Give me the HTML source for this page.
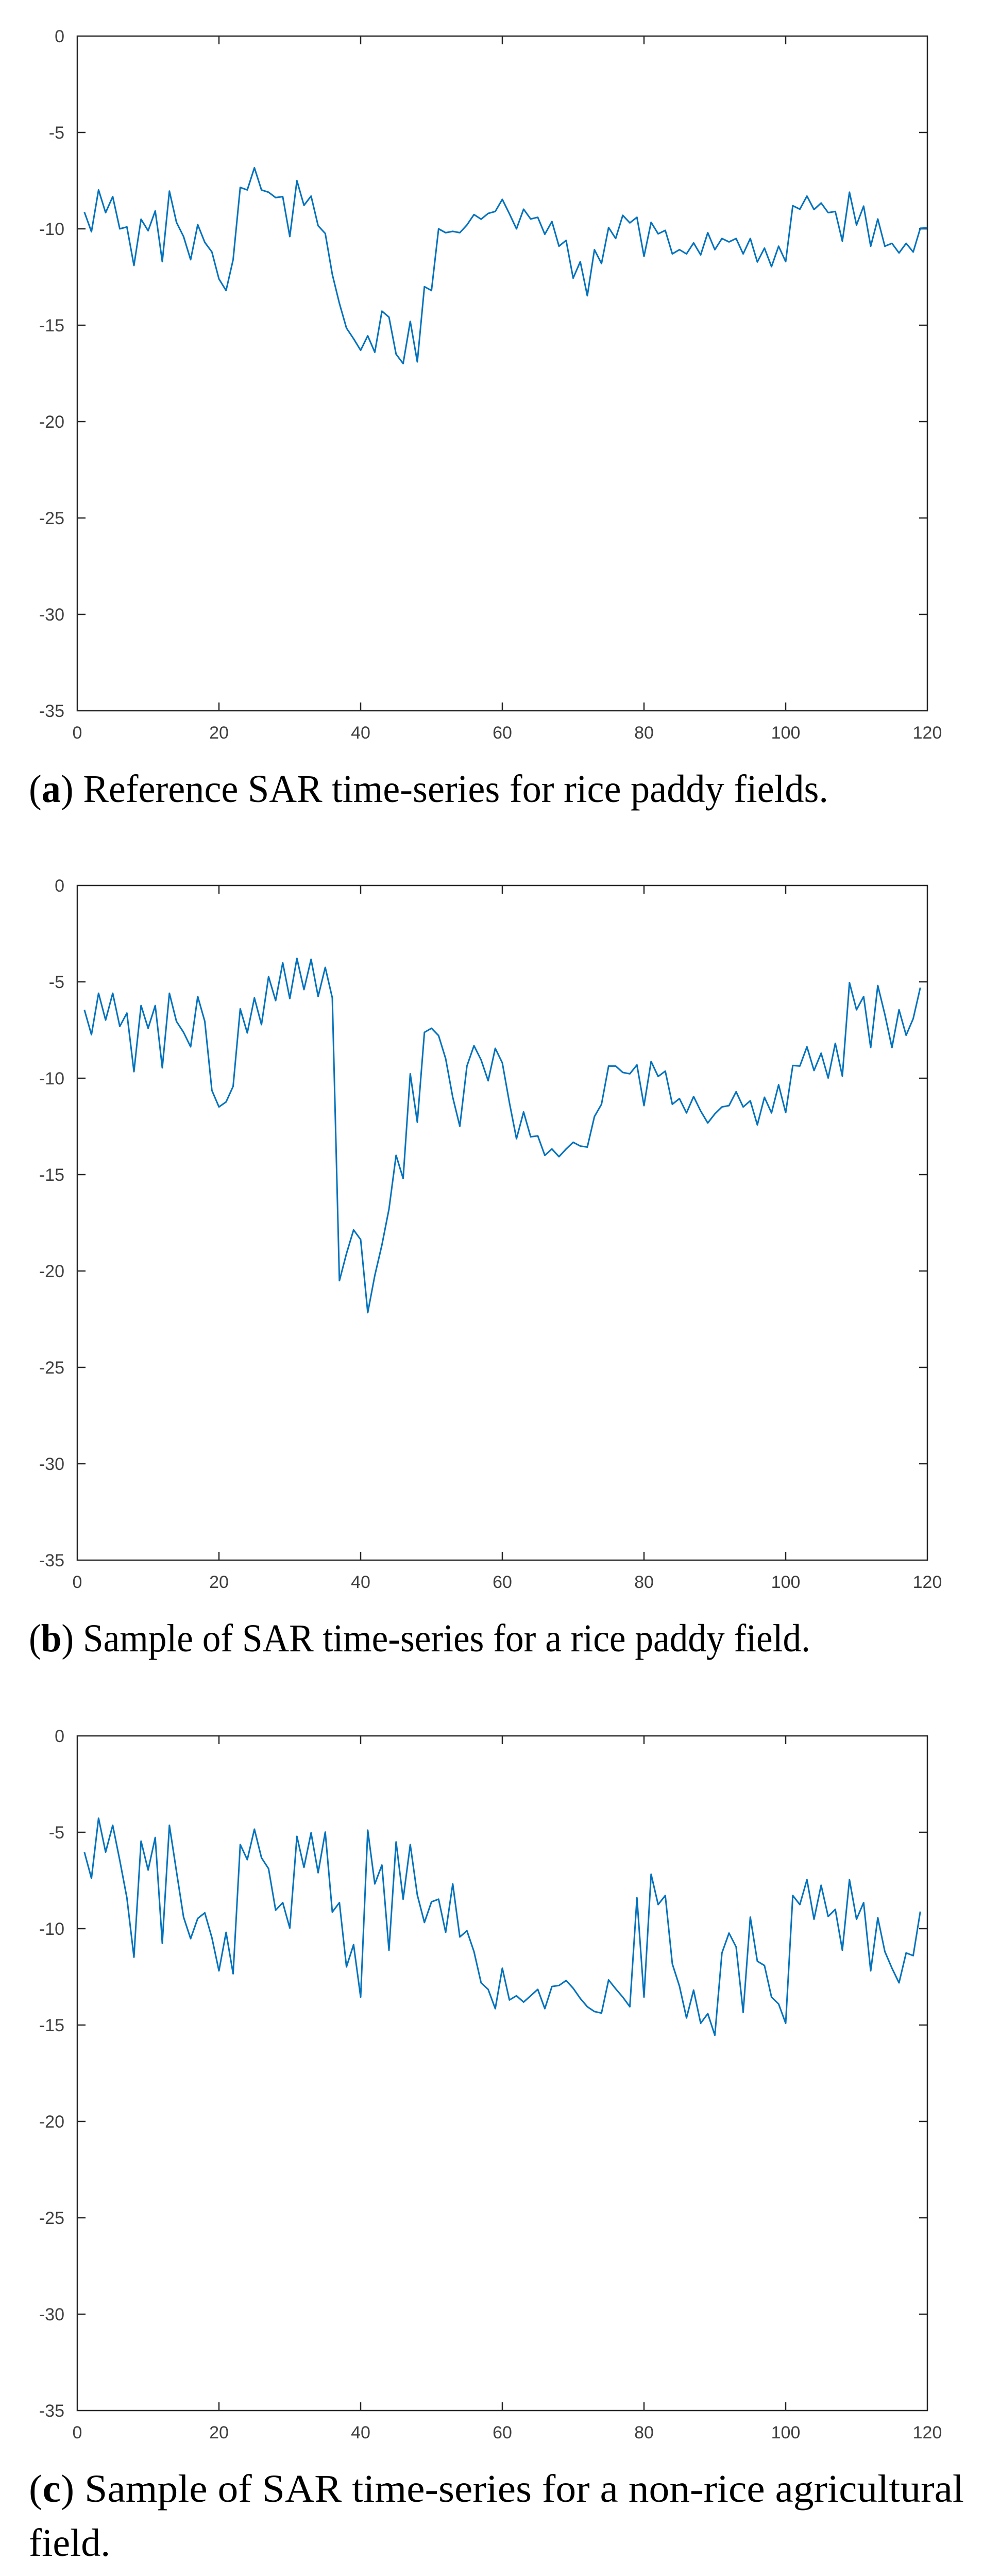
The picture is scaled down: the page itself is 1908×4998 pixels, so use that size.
<!DOCTYPE html>
<html><head><meta charset="utf-8"><style>
html,body{margin:0;padding:0;background:#fff;}
svg{display:block;}
</style></head><body>
<svg id="fig" xmlns="http://www.w3.org/2000/svg" width="1908" height="4998" viewBox="0 0 1908 4998">
<rect x="0" y="0" width="1908" height="4998" fill="#fff"/>
</svg>
<script>
const xTicks = [0, 20, 40, 60, 80, 100, 120];
const yTicks = [0, -5, -10, -15, -20, -25, -30, -35];
const seriesA = [-9.13,-10.15,-7.98,-9.16,-8.33,-10.0,-9.9,-11.9,-9.5,-10.1,-9.07,-11.7,-8.04,-9.66,-10.4,-11.6,-9.78,-10.7,-11.2,-12.6,-13.2,-11.6,-7.85,-7.98,-6.83,-7.98,-8.1,-8.38,-8.33,-10.4,-7.5,-8.78,-8.3,-9.84,-10.24,-12.36,-13.87,-15.15,-15.7,-16.3,-15.55,-16.4,-14.27,-14.58,-16.5,-16.99,-14.8,-16.9,-13.0,-13.2,-10.0,-10.2,-10.13,-10.2,-9.8,-9.26,-9.5,-9.2,-9.1,-8.47,-9.22,-10.0,-8.98,-9.49,-9.4,-10.28,-9.62,-10.9,-10.6,-12.56,-11.7,-13.47,-11.08,-11.8,-9.93,-10.5,-9.3,-9.69,-9.4,-11.43,-9.66,-10.26,-10.08,-11.3,-11.08,-11.3,-10.73,-11.35,-10.2,-11.08,-10.5,-10.68,-10.5,-11.3,-10.5,-11.72,-11.0,-11.96,-10.9,-11.7,-8.8,-8.98,-8.3,-9.0,-8.66,-9.16,-9.1,-10.64,-8.1,-9.8,-8.82,-10.9,-9.49,-10.9,-10.75,-11.25,-10.75,-11.2,-9.97,-9.95];
const seriesB = [-6.45,-7.74,-5.59,-6.98,-5.59,-7.31,-6.62,-9.66,-6.23,-7.41,-6.23,-9.46,-5.59,-7.05,-7.62,-8.37,-5.76,-7.05,-10.63,-11.49,-11.23,-10.42,-6.4,-7.65,-5.83,-7.22,-4.73,-5.97,-4.01,-5.87,-3.78,-5.4,-3.83,-5.76,-4.25,-5.83,-20.5,-19.1,-17.87,-18.37,-22.16,-20.23,-18.65,-16.79,-14.0,-15.2,-9.77,-12.28,-7.62,-7.41,-7.79,-8.98,-10.99,-12.49,-9.37,-8.31,-9.05,-10.13,-8.45,-9.2,-11.27,-13.14,-11.75,-13.04,-12.99,-14.0,-13.67,-14.07,-13.67,-13.32,-13.52,-13.57,-11.99,-11.35,-9.37,-9.37,-9.7,-9.77,-9.31,-11.42,-9.13,-9.91,-9.63,-11.35,-11.06,-11.8,-10.95,-11.7,-12.32,-11.85,-11.49,-11.42,-10.7,-11.49,-11.17,-12.42,-10.99,-11.8,-10.34,-11.78,-9.34,-9.37,-8.37,-9.6,-8.7,-9.99,-8.19,-9.89,-5.04,-6.45,-5.76,-8.41,-5.19,-6.69,-8.41,-6.45,-7.77,-6.91,-5.3];
const seriesC = [-6.03,-7.39,-4.27,-6.03,-4.64,-6.46,-8.4,-11.48,-5.46,-6.96,-5.27,-10.76,-4.64,-7.03,-9.4,-10.52,-9.47,-9.18,-10.47,-12.19,-10.19,-12.34,-5.64,-6.42,-4.84,-6.32,-6.89,-9.04,-8.65,-9.97,-5.21,-6.82,-5.03,-7.1,-4.99,-9.14,-8.65,-11.98,-10.83,-13.55,-4.89,-7.68,-6.7,-11.12,-5.5,-8.47,-5.64,-8.25,-9.68,-8.61,-8.47,-10.19,-7.68,-10.43,-10.11,-11.19,-12.81,-13.15,-14.15,-12.05,-13.7,-13.48,-13.81,-13.48,-13.15,-14.15,-13.0,-12.95,-12.69,-13.09,-13.62,-14.05,-14.3,-14.38,-12.66,-13.12,-13.55,-14.05,-8.4,-13.55,-7.18,-8.75,-8.28,-11.83,-12.98,-14.63,-13.19,-14.91,-14.41,-15.53,-11.26,-10.23,-10.95,-14.34,-9.4,-11.69,-11.91,-13.55,-13.91,-14.91,-8.28,-8.75,-7.46,-9.51,-7.75,-9.37,-9.0,-11.12,-7.46,-9.51,-8.65,-12.19,-9.43,-11.19,-12.05,-12.81,-11.26,-11.4,-9.11];

const NS = 'http://www.w3.org/2000/svg';
const svg = document.getElementById('fig');
const L = 150, R = 1800, H = 1309;
function mk(tag, attrs, parent) {
  const e = document.createElementNS(NS, tag);
  for (const k in attrs) e.setAttribute(k, attrs[k]);
  parent.appendChild(e);
  return e;
}
function drawChart(key, top, data, captionParts, capWidths) {
  const g = mk('g', {}, svg);
  
  
  const xs = v => L + (v - 0) / 120 * (R - L);
  const ys = v => top + (0 - v) / 35 * H;
  const bottom = top + H;
  xTicks.forEach(t => {
    const x = xs(t);
    if (t > 0 && t < 120) {
      const tb = mk('line', {x1:x, y1:bottom, x2:x, y2:bottom-16, stroke:'#262626', 'stroke-width':2.5}, g);
      
      
      const tt = mk('line', {x1:x, y1:top, x2:x, y2:top+16, stroke:'#262626', 'stroke-width':2.5}, g);
      
      
    }
    const lb = mk('text', {x:x, y:bottom+54, 'text-anchor':'middle', 'font-family':'Liberation Sans, sans-serif', 'font-size':34, fill:'#404040'}, g);
    lb.textContent = String(t);
    
    
  });
  yTicks.forEach(t => {
    const y = ys(t);
    if (t < 0 && t > -35) {
      const tl = mk('line', {x1:L, y1:y, x2:L+16, y2:y, stroke:'#262626', 'stroke-width':2.5}, g);
      
      
      const tr = mk('line', {x1:R, y1:y, x2:R-16, y2:y, stroke:'#262626', 'stroke-width':2.5}, g);
      
      
    }
    const lb = mk('text', {x:125, y:y+12, 'text-anchor':'end', 'font-family':'Liberation Sans, sans-serif', 'font-size':34, fill:'#404040'}, g);
    lb.textContent = String(t);
    
    
  });
  const box = mk('rect', {x:L, y:top, width:R-L, height:H, fill:'none', stroke:'#262626', 'stroke-width':2.5}, g);
  
  
  const pts = data.map((v, i) => xs(i + 1).toFixed(1) + ',' + ys(v).toFixed(1)).join(' ');
  const line = mk('polyline', {points:pts, fill:'none', stroke:'#0072BD', 'stroke-width':3, 'stroke-linejoin':'round'}, g);
  
  
  captionParts.forEach((ln, li) => {
    const attrs = {x:56, y:bottom+177+li*105, 'font-family':'Liberation Serif, serif', 'font-size':76, fill:'#000'};
    if (capWidths[li]) { attrs.textLength = capWidths[li]; attrs.lengthAdjust = 'spacingAndGlyphs'; }
    const t = mk('text', attrs, g);
    
    
    ln.forEach(seg => {
      const s = mk('tspan', seg.b ? {'font-weight':'bold'} : {}, t);
      s.textContent = seg.t;
    });
  });
}
drawChart('a', 70, seriesA, [[{t:'('},{t:'a',b:1},{t:') Reference SAR time-series for rice paddy fields.'}]], [1552]);
drawChart('b', 1718, seriesB, [[{t:'('},{t:'b',b:1},{t:') Sample of SAR time-series for a rice paddy field.'}]], [1517]);
drawChart('c', 3368, seriesC, [[{t:'('},{t:'c',b:1},{t:') Sample of SAR time-series for a non-rice agricultural'}],[{t:'field.'}]], [1815, 0]);
</script>
</body></html>
